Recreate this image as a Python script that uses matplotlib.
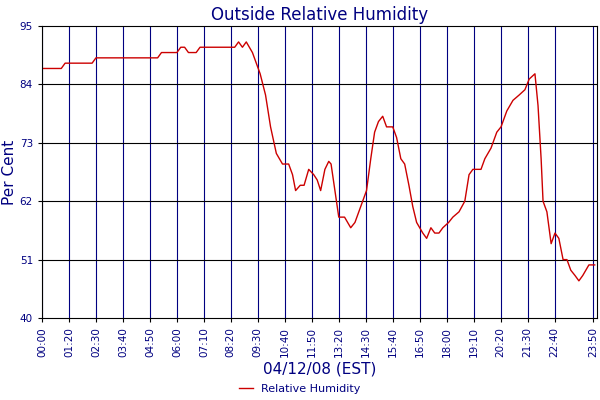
import matplotlib
matplotlib.use("Agg")
import matplotlib.pyplot as plt

minutes = [0,50,60,130,140,300,310,350,360,370,380,400,410,500,510,520,530,546,556,566,
           580,593,608,624,640,650,658,670,680,692,705,714,723,734,744,750,770,785,801,812,
           827,842,853,863,873,884,894,910,920,931,941,952,962,972,988,998,1009,1019,1030,1040,
           1055,1066,1082,1097,1108,1118,1139,1149,1165,1180,1191,1206,1222,1238,1253,1264,1279,1287,
           1295,1300,1310,1321,1331,1341,1352,1362,1372,1383,1393,1403,1419,1434]
humidity = [87,87,88,88,89,89,90,90,91,91,90,90,91,91,92,91,92,90,88,86,
            82,76,71,69,69,67,64,65,65,68,67,66,64,68,69.5,69,59,59,57,58,
            61,64,70,75,77,78,76,76,74,70,69,65,61,58,56,55,57,56,56,57,
            58,59,60,62,67,68,68,70,72,75,76,79,81,82,83,85,86,80,
            70,62,60,54,56,55,51,51,49,48,47,48,50,50]
tick_labels = ["00:00","01:20","02:30","03:40","04:50","06:00","07:10","08:20","09:30","10:40",
               "11:50","13:20","14:30","15:40","16:50","18:00","19:10","20:20","21:30","22:40","23:50"]
tick_pos = [i*70 for i in range(len(tick_labels))]
tick_pos[-1] = 1430
yticks = [40,51,62,73,84,95]

navy = "#000080"
fig = plt.figure(figsize=(6,4), dpi=100)
ax = fig.add_axes([0.07, 0.205, 0.925, 0.73])
ax.plot(minutes, humidity, color="#cc0000", lw=1)
ax.set_xlim(0,1440); ax.set_ylim(40,95)
ax.set_xticks(tick_pos); ax.set_xticklabels(tick_labels, rotation=90, fontsize=7.5, color=navy)
ax.set_yticks(yticks); ax.set_yticklabels([str(v) for v in yticks], fontsize=7.5, color=navy)
for t in tick_pos:
    ax.axvline(t, color=navy, lw=0.8, zorder=0)
for v in yticks[1:-1]:
    ax.axhline(v, color="black", lw=0.8, zorder=0)
ax.tick_params(length=3)
ax.set_title("Outside Relative Humidity", color=navy, fontsize=12, pad=4)
ax.set_ylabel("Per Cent", color=navy, fontsize=11, labelpad=2)
ax.set_xlabel("04/12/08 (EST)", color=navy, fontsize=11, labelpad=3)
fig.legend(handles=ax.lines[:1], labels=["Relative Humidity"], loc="lower center",
           bbox_to_anchor=(0.5, -0.01), frameon=False, fontsize=8, handlelength=1.2,
           labelcolor=navy)
fig.savefig("out.png")
